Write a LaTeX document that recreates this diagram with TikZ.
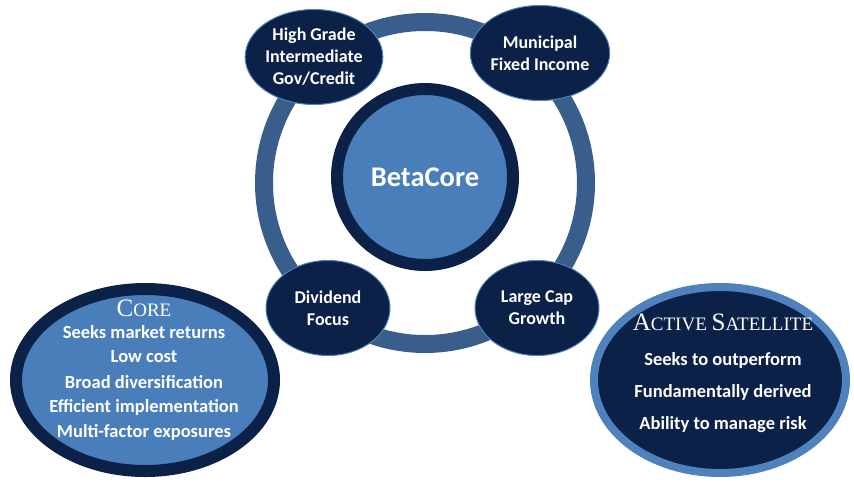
\documentclass[tikz,border=0pt]{standalone}
\usepackage{fontspec}
\setmainfont{Carlito}
\newfontfamily\capsfont{Liberation Serif}
\usetikzlibrary{shapes.geometric}
\definecolor{navy}{RGB}{11,33,72}
\definecolor{midblue}{RGB}{74,126,187}
\definecolor{ringblue}{RGB}{58,94,140}
\definecolor{lightedge}{RGB}{79,129,189}
\tikzset{
  sat/.style={ellipse, draw=lightedge, line width=1pt, fill=navy, text=white,
    minimum width=124pt, minimum height=95pt, inner sep=0pt, align=center,
    font=\bfseries\fontsize{18}{22}\selectfont},
  bigtxt/.style={text=white, font=\bfseries\fontsize{18.5}{20}\selectfont, inner sep=0pt},
  captxt/.style={text=white, inner sep=0pt}
}
\begin{document}
\begin{tikzpicture}[x=1pt,y=-1pt]
\useasboundingbox (0,0) rectangle (854,483);
% ring
\node (ring) at (425,183) [circle, draw=ringblue, line width=18pt, minimum size=322pt, inner sep=0pt] {};
% center
\node (beta) at (425,177) [circle, draw=navy, line width=12pt, fill=midblue, minimum size=176pt, inner sep=0pt, text=white, font=\bfseries\fontsize{28.5}{32}\selectfont] {BetaCore};
% satellites
\node (hg) at (314,57) [sat] {High Grade\\Intermediate\\Gov/Credit};
\node (mu) at (540,53) [sat] {Municipal\\Fixed Income};
\node (dv) at (328,308) [sat] {Dividend\\Focus};
\node (lc) at (537,308) [sat] {Large Cap\\Growth};
% core ellipse
\node (core) at (145,380) [ellipse, draw=navy, line width=12pt, fill=midblue, minimum width=258pt, minimum height=182pt, inner sep=0pt] {};
\node (coret) at (144,308) [captxt] {\capsfont{\fontsize{25}{26}\selectfont C}{\fontsize{19}{26}\selectfont ORE}};
\node (c1) at (144,332) [bigtxt] {Seeks market returns};
\node (c2) at (144,357) [bigtxt] {Low cost};
\node (c3) at (144,382) [bigtxt] {Broad diversification};
\node (c4) at (144,407) [bigtxt] {Efficient implementation};
\node (c5) at (144,432) [bigtxt] {Multi-factor exposures};
% active satellite ellipse
\node (act) at (720,380) [ellipse, draw=lightedge, line width=8pt, fill=navy, minimum width=252pt, minimum height=186pt, inner sep=0pt] {};
\node (actt) at (723,322) [captxt] {\capsfont{\fontsize{25}{26}\selectfont A}{\fontsize{19}{26}\selectfont CTIVE }{\fontsize{25}{26}\selectfont S}{\fontsize{19}{26}\selectfont ATELLITE}};
\node (a1) at (723,360) [bigtxt] {Seeks to outperform};
\node (a2) at (723,392) [bigtxt] {Fundamentally derived};
\node (a3) at (723,425) [bigtxt] {Ability to manage risk};
\end{tikzpicture}
\end{document}
